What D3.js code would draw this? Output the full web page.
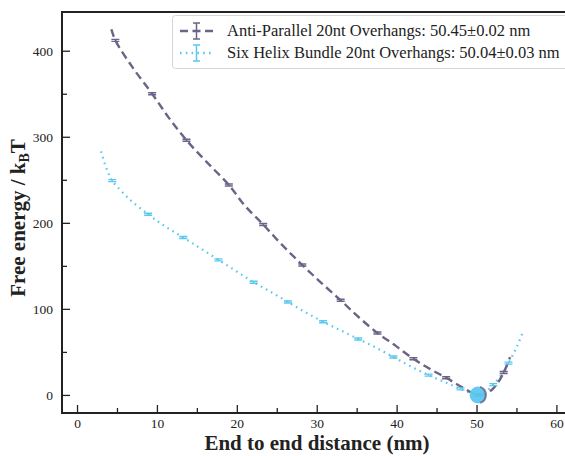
<!DOCTYPE html>
<html>
<head>
<meta charset="utf-8">
<style>
body { margin: 0; background: #fff; }
svg text { font-family: 'Liberation Serif', 'DejaVu Serif', serif; fill: #222; }
</style>
<script src="https://d3js.org/d3.v7.min.js"></script>
</head>
<body>
<div id="chart"></div>
<script>
var apX = [4.3, 4.8, 7.0, 9.4, 11.5, 13.7, 16.3, 19.0, 21.0, 23.3, 25.7, 28.2, 30.6, 33.0, 35.3, 37.6, 39.9, 42.1, 44.2, 46.2, 48.2, 50.2, 51.5, 52.5, 53.4, 54.2];
var apY = [425, 412, 380, 350, 322, 296, 270, 244, 220, 198, 174, 151, 130, 110, 90, 72, 57, 42, 30, 20, 9, 0, 3, 12, 26, 44];
var apMarkX = [4.8, 9.4, 13.7, 19.0, 23.3, 28.2, 33.0, 37.6, 42.1, 46.2, 50.2, 53.4];
var apMarkY = [412, 350, 296, 244, 198, 151, 110, 72, 42, 20, 0, 26];

var shX = [3.0, 3.5, 4.0, 4.4, 6.5, 8.9, 11.0, 13.3, 15.5, 17.7, 19.9, 22.1, 24.2, 26.4, 28.6, 30.8, 33.0, 35.2, 37.4, 39.6, 41.8, 44.0, 46.0, 48.0, 50.2, 51.2, 52.1, 53.0, 54.0, 55.1, 55.8];
var shY = [283, 268, 256, 249, 228, 210, 196, 183, 170, 157, 144, 131, 120, 108, 96, 85, 75, 65, 55, 44, 33, 23, 15, 7, 0, 4, 12, 22, 37, 57, 73];
var shMarkX = [4.4, 8.9, 13.3, 17.7, 22.1, 26.4, 30.8, 35.2, 39.6, 44.0, 48.0, 50.2, 52.1, 54.0];
var shMarkY = [249, 210, 183, 157, 131, 108, 85, 65, 44, 23, 7, 0, 12, 37];

var minX = 50.2, minY = 0;

var legendLabels = ["Anti-Parallel 20nt Overhangs: 50.45\u00b10.02 nm",
                    "Six Helix Bundle 20nt Overhangs: 50.04\u00b10.03 nm"];
var xTicks = [0, 10, 20, 30, 40, 50, 60];
var yTicks = [0, 100, 200, 300, 400];

var purple = "#6c6386", cyan = "#5bc8ee";

var W = 565, H = 456;
var svg = d3.select("#chart").append("svg").attr("width", W).attr("height", H);

var x = d3.scaleLinear().domain([-1.88, 61.2]).range([62, 566]);
var y = d3.scaleLinear().domain([-21, 445]).range([413, 12]);

// minor ticks
var xMinor = d3.range(0, 61, 5).filter(function(d) { return d % 10 !== 0; });
var yMinor = d3.range(50, 450, 100);

var gx = svg.append("g").attr("transform", "translate(0,413)")
  .call(d3.axisBottom(x).tickValues(xTicks).tickSizeInner(-8).tickSizeOuter(0).tickPadding(5).tickFormat(d3.format("d")));
var gxm = svg.append("g").attr("transform", "translate(0,413)")
  .call(d3.axisBottom(x).tickValues(xMinor).tickSizeInner(-5).tickSizeOuter(0).tickFormat(""));
var gy = svg.append("g").attr("transform", "translate(62,0)")
  .call(d3.axisLeft(y).tickValues(yTicks).tickSizeInner(-8).tickSizeOuter(0).tickPadding(9).tickFormat(d3.format("d")));
var gym = svg.append("g").attr("transform", "translate(62,0)")
  .call(d3.axisLeft(y).tickValues(yMinor).tickSizeInner(-5).tickSizeOuter(0).tickFormat(""));
[gx, gxm, gy, gym].forEach(function(g) {
  g.select(".domain").remove();
  g.selectAll(".tick line").attr("stroke", "#222").attr("stroke-width", 1.3);
  g.selectAll(".tick text").attr("font-family", "'Liberation Serif', serif").attr("font-size", 13.5).attr("fill", "#222");
});

// frame
svg.append("path")
  .attr("d", "M" + x.range()[1] + ",12H62V413H" + x.range()[1])
  .attr("fill", "none").attr("stroke", "#222").attr("stroke-width", 2);

var line = d3.line().x(function(d) { return x(d[0]); }).y(function(d) { return y(d[1]); })
  .curve(d3.curveCatmullRom.alpha(0.5));

var ap = apX.map(function(v, i) { return [v, apY[i]]; });
var sh = shX.map(function(v, i) { return [v, shY[i]]; });

svg.append("path").datum(sh).attr("d", line).attr("fill", "none")
  .attr("stroke", cyan).attr("stroke-width", 2.2).attr("stroke-dasharray", "1.6,4.2").attr("stroke-linecap", "butt");
svg.append("path").datum(ap).attr("d", line).attr("fill", "none")
  .attr("stroke", purple).attr("stroke-width", 2.4).attr("stroke-dasharray", "8,4.5");

function caps(xs, ys, col) {
  svg.append("g").selectAll("path").data(xs).join("path")
    .attr("d", function(d, i) {
      var cx = x(d), cy = y(ys[i]);
      return "M" + (cx - 4) + "," + (cy - 1) + "H" + (cx + 4) + "M" + (cx - 4) + "," + (cy + 1) + "H" + (cx + 4) + "M" + cx + "," + (cy - 1) + "V" + (cy + 1);
    })
    .attr("stroke", col).attr("stroke-width", 1.4).attr("fill", "none");
}
caps(shMarkX, shMarkY, cyan);
caps(apMarkX, apMarkY, purple);

// minimum
svg.append("circle").attr("cx", x(minX)).attr("cy", y(minY)).attr("r", 8.5)
  .attr("fill", cyan).attr("opacity", 0.95);
svg.append("path").attr("d", "M" + (x(minX) + 2) + "," + (y(minY) - 8) + "A8.5,8.5 0 0,1 " + (x(minX) + 2) + "," + (y(minY) + 8))
  .attr("fill", "none").attr("stroke", purple).attr("stroke-width", 2).attr("opacity", 0.8);

// legend
var lg = svg.append("g");
lg.append("rect").attr("x", 172.5).attr("y", 15.5).attr("width", 420).attr("height", 53).attr("rx", 3)
  .attr("fill", "#fff").attr("fill-opacity", 0.85).attr("stroke", "#d6d6d6");
var rows = [[purple, "8,4.5", 31], [cyan, "1.6,4.2", 53]];
rows.forEach(function(r, i) {
  lg.append("line").attr("x1", 180).attr("x2", 213).attr("y1", r[2]).attr("y2", r[2])
    .attr("stroke", r[0]).attr("stroke-width", 2.4).attr("stroke-dasharray", r[1]);
  lg.append("path").attr("d", "M196.5," + (r[2] - 8) + "V" + (r[2] + 8) + "M193," + (r[2] - 8) + "H200M193," + (r[2] + 8) + "H200")
    .attr("stroke", r[0]).attr("stroke-width", 1.5).attr("fill", "none");
  lg.append("text").attr("x", 227).attr("y", r[2] + 5).attr("font-size", 16.5).text(legendLabels[i]);
});

// axis titles
svg.append("text").attr("x", 317).attr("y", 450).attr("text-anchor", "middle")
  .attr("font-size", 21).attr("font-weight", "bold").text("End to end distance (nm)");
var yl = svg.append("text").attr("transform", "translate(25,218) rotate(-90)").attr("text-anchor", "middle")
  .attr("font-size", 21).attr("font-weight", "bold");
yl.append("tspan").text("Free energy / k");
yl.append("tspan").attr("font-size", 14).attr("dy", 4).text("B");
yl.append("tspan").attr("dy", -4).text("T");
</script>
</body>
</html>
